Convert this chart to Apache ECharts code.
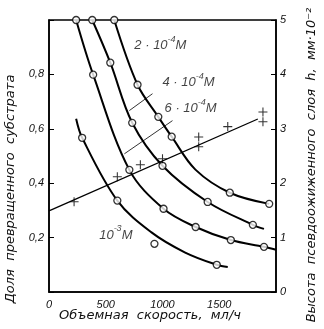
<!DOCTYPE html>
<html><head><meta charset="utf-8">
<script src="https://cdn.jsdelivr.net/npm/echarts@6/dist/echarts.min.js"></script>
<style>html,body{margin:0;padding:0;background:#fff}#c{width:324px;height:329px}</style>
</head><body><div id="c"></div>
<script>
// ---- tick labels ----
const xTickLabels = {0:'0',500:'500',1000:'1000',1500:'1500'};
const yLeftTickLabels = {'0.2':'0,2','0.4':'0,4','0.6':'0,6','0.8':'0,8'};
const yRightTickLabels = {0:'0',1:'1',2:'2',3:'3',4:'4',5:'5'};

// ---- curves (x: space velocity, y: conversion fraction) ----
const curve2e4 = [[575,1.0],[780,0.762],[963,0.644],[1081,0.571],[1290,0.45],[1593,0.365],[1940,0.324]];
const pts2e4   = [[575,1.0],[780,0.762],[963,0.644],[1081,0.571],[1593,0.365],[1940,0.324]];
const curve4e4 = [[381,1.0],[540,0.843],[733,0.622],[1000,0.464],[1398,0.331],[1796,0.247],[1894,0.232]];
const pts4e4   = [[381,1.0],[540,0.843],[733,0.622],[1000,0.464],[1398,0.331],[1796,0.247]];
const curve6e4 = [[239,1.0],[389,0.799],[708,0.449],[1009,0.306],[1292,0.239],[1602,0.191],[1894,0.166],[2000,0.155]];
const pts6e4   = [[239,1.0],[389,0.799],[708,0.449],[1009,0.306],[1292,0.239],[1602,0.191],[1894,0.166]];
const curve1e3 = [[239,0.637],[292,0.567],[602,0.336],[900,0.22],[1200,0.145],[1478,0.10],[1575,0.092]];
const pts1e3   = [[292,0.567],[602,0.336],[929,0.177],[1478,0.10]];

// ---- bed height (right axis) ----
const heightLine = [[0,1.49],[1840,3.18]];
const heightPts = [[221,1.66],[602,2.12],[805,2.34],[1000,2.45],[1319,2.85],[1319,2.67],[1575,3.04],[1885,3.31],[1885,3.13]];

// ---- annotations ----
const curveLabelBase = ['2 · 10','4 · 10','6 · 10','10'];
const curveLabelExp = ['-4','-4','-4','-3'];
const curveLabelUnit = ['M','M','M','M'];
const curveLabelAnchors = [[752,0.913],[1000,0.777],[1018,0.681],[442,0.217]];
const leader4 = [[912,0.729],[708,0.667]];
const leader6 = [[1088,0.630],[664,0.508]];

const xTitle = 'Объемная  скорость,  мл/ч';
const yLeftTitle = 'Доля  превращенного  субстрата';
const yRightTitle = 'Высота  псевдоожиженного  слоя  h,  мм·10⁻²';

const FONT = 'Liberation Sans';
const TFONT = 'DejaVu Sans';
const ts = {fontFamily: FONT, fontStyle: 'italic', color: '#111', fontSize: 11};

function curveSeries(data){
  return {type:'line', data, smooth:0.35, symbol:'none', yAxisIndex:0,
    lineStyle:{color:'#000', width:2}, silent:true, z:3};
}
function ptsSeries(data){
  return {type:'scatter', data, symbol:'circle', symbolSize:7, yAxisIndex:0,
    itemStyle:{color:'#fff', borderColor:'#000', borderWidth:1.3}, z:5};
}

const chart = echarts.init(document.getElementById('c'), null, {renderer:'canvas'});
chart.setOption({
  animation:false,
  backgroundColor:'#fff',
  grid:{left:49, right:48, top:20, bottom:37, show:true, borderColor:'#000', borderWidth:1.5},
  xAxis:{type:'value', min:0, max:2000, interval:500,
    axisLine:{lineStyle:{color:'#000', width:1.5}}, axisTick:{show:false}, splitLine:{show:false},
    axisLabel:Object.assign({margin:7, formatter:v=>xTickLabels[v]||''}, ts)},
  yAxis:[
    {type:'value', min:0, max:1, interval:0.2, position:'left',
      axisLine:{show:true, lineStyle:{color:'#000', width:1.5}},
      axisTick:{show:true, inside:true, length:5, lineStyle:{color:'#000'}},
      splitLine:{show:false},
      axisLabel:Object.assign({margin:5, formatter:v=>yLeftTickLabels[v.toFixed(1)]||''}, ts)},
    {type:'value', min:0, max:5, interval:1, position:'right',
      axisLine:{show:true, lineStyle:{color:'#000', width:1.5}},
      axisTick:{show:true, inside:true, length:5, lineStyle:{color:'#000'}},
      splitLine:{show:false},
      axisLabel:Object.assign({margin:4, formatter:v=>yRightTickLabels[v]||''}, ts)}
  ],
  graphic:[
    {type:'text', x:150, y:316, style:{text:xTitle, textAlign:'center', textVerticalAlign:'middle', font:'oblique 13px "'+TFONT+'"', fill:'#111'}},
    {type:'text', x:11, y:189, rotation:Math.PI/2, style:{text:yLeftTitle, textAlign:'center', textVerticalAlign:'middle', font:'oblique 13px "'+TFONT+'"', fill:'#111'}},
    {type:'text', x:312, y:165, rotation:Math.PI/2, style:{text:yRightTitle, textAlign:'center', textVerticalAlign:'middle', font:'oblique 13px "'+TFONT+'"', fill:'#111'}}
  ],
  series:[
    curveSeries(curve2e4), curveSeries(curve4e4), curveSeries(curve6e4), curveSeries(curve1e3),
    ptsSeries(pts2e4), ptsSeries(pts4e4), ptsSeries(pts6e4), ptsSeries(pts1e3),
    {type:'line', data:heightLine, yAxisIndex:1, symbol:'none', lineStyle:{color:'#000', width:1.3}, z:3},
    {type:'scatter', data:heightPts, yAxisIndex:1, symbol:'path://M-0.6,-5H0.6V5H-0.6Z M-5,-0.6H5V0.6H-5Z', symbolSize:9,
      itemStyle:{color:'#000'}, z:5},
    {type:'line', data:leader4, yAxisIndex:0, symbol:'none', lineStyle:{color:'#000', width:0.8}, z:2},
    {type:'line', data:leader6, yAxisIndex:0, symbol:'none', lineStyle:{color:'#000', width:0.8}, z:2},
    {type:'scatter', yAxisIndex:0, symbolSize:0, z:6,
      data:curveLabelAnchors.map((p,i)=>({value:p, name:i})),
      label:{show:true, position:'right', distance:0,
        formatter:p=>'{n|'+curveLabelBase[p.name]+'}{s|'+curveLabelExp[p.name]+'}{n|'+curveLabelUnit[p.name]+'}',
        rich:{
          n:{fontFamily:FONT, fontStyle:'italic', fontSize:13, color:'#111', verticalAlign:'bottom', lineHeight:17},
          s:{fontFamily:FONT, fontStyle:'italic', fontSize:9, color:'#111', verticalAlign:'top', lineHeight:17}
        }}}
  ]
});
</script></body></html>
